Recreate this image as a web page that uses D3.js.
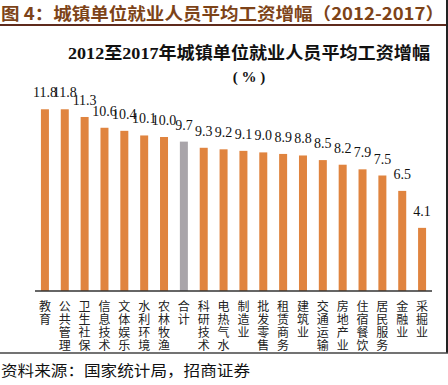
<!DOCTYPE html>
<html>
<head>
<meta charset="utf-8">
<script src="https://cdn.jsdelivr.net/npm/d3@7"></script>
<style>
  body { margin: 0; background: #fff; }
  svg { display: block; }
</style>
</head>
<body>
<div id="chart"></div>
<script>
var categories = ["教育", "公共管理", "卫生社保", "信息技术", "文体娱乐", "水利环境", "农林牧渔", "合计",
	"科研技术", "电热气水", "制造业", "批发零售", "租赁商务", "建筑业", "交通运输", "房地产业",
	"住宿餐饮", "居民服务", "金融业", "采掘业"];
var values = [11.8, 11.8, 11.3, 10.6, 10.4, 10.1, 10.0, 9.7, 9.3, 9.2, 9.1, 9.0, 8.9, 8.8, 8.5, 8.2, 7.9, 7.5, 6.5, 4.1];
var highlight = "合计";

var width = 448;
var height = 385;
var base_y = 291;

var svg = d3.select("#chart").append("svg")
	.attr("width", width)
	.attr("height", height);

// Header of the report figure
svg.append("text")
	.attr("x", 1)
	.attr("y", 20)
	.attr("font-family", "Noto Sans CJK SC")
	.attr("font-weight", "bold")
	.attr("font-size", 17)
	.attr("fill", "#7d4318")
	.attr("textLength", 443)
	.attr("lengthAdjust", "spacingAndGlyphs")
	.text("图 4：城镇单位就业人员平均工资增幅（2012-2017）");

svg.append("rect")
	.attr("x", 0).attr("y", 24)
	.attr("width", width).attr("height", 2)
	.attr("fill", "#5e2a1c");

// right border
svg.append("rect")
	.attr("x", 446).attr("y", 0)
	.attr("width", 2).attr("height", 353)
	.attr("fill", "#222");

// Chart title
svg.append("text")
	.attr("x", 249)
	.attr("y", 59)
	.attr("text-anchor", "middle")
	.attr("font-family", "Liberation Serif, Noto Sans CJK SC")
	.attr("font-weight", "bold")
	.attr("font-size", 17)
	.attr("fill", "#111")
	.attr("textLength", 362)
	.attr("lengthAdjust", "spacingAndGlyphs")
	.text("2012至2017年城镇单位就业人员平均工资增幅");

svg.append("text")
	.attr("x", 249)
	.attr("y", 82)
	.attr("text-anchor", "middle")
	.attr("font-family", "Liberation Serif")
	.attr("font-weight", "bold")
	.attr("font-size", 15)
	.attr("fill", "#111")
	.attr("xml:space", "preserve")
	.text("( % )");

// Scales
var x = d3.scaleBand()
	.domain(categories)
	.range([35, 432]);

var y = d3.scaleLinear()
	.domain([0, 14])
	.range([base_y, base_y - 14 * 15.4]);

var bar_w = 8;

svg.selectAll(".bar").data(values).enter()
	.append("rect")
	.attr("class", "bar")
	.attr("x", function(d, i) { return x(categories[i]) + x.bandwidth() / 2 - bar_w / 2; })
	.attr("y", function(d) { return y(d); })
	.attr("width", bar_w)
	.attr("height", function(d) { return y(0) - y(d); })
	.attr("fill", function(d, i) { return categories[i] == highlight ? "#a9a5aa" : "#e0843f"; });

// value labels
svg.selectAll(".val").data(values).enter()
	.append("text")
	.attr("class", "val")
	.attr("x", function(d, i) { return x(categories[i]) + x.bandwidth() / 2; })
	.attr("y", function(d) { return y(d) - 12; })
	.attr("text-anchor", "middle")
	.attr("font-family", "Liberation Serif")
	.attr("font-size", 14)
	.attr("fill", "#111")
	.text(function(d) { return d.toFixed(1); });

// x axis line
svg.append("line")
	.attr("x1", 35).attr("x2", 432)
	.attr("y1", base_y).attr("y2", base_y)
	.attr("stroke", "#333")
	.attr("stroke-width", 1.5);

// vertical category labels, one character per row
var cat_g = svg.selectAll(".cat").data(categories).enter()
	.append("text")
	.attr("class", "cat")
	.attr("font-family", "Noto Sans CJK SC")
	.attr("font-size", 12)
	.attr("fill", "#222")
	.attr("text-anchor", "middle");

cat_g.each(function(c) {
	var t = d3.select(this);
	c.split("").forEach(function(ch, k) {
		t.append("tspan")
			.attr("x", x(c) + x.bandwidth() / 2)
			.attr("y", 311 + k * 13)
			.text(ch);
	});
});

// source line
svg.append("line")
	.attr("x1", 0).attr("x2", width)
	.attr("y1", 353).attr("y2", 353)
	.attr("stroke", "#444")
	.attr("stroke-width", 1.5);

svg.append("text")
	.attr("x", 1)
	.attr("y", 376)
	.attr("font-family", "Noto Sans CJK SC")
	.attr("font-size", 15)
	.attr("fill", "#111")
	.attr("textLength", 249)
	.attr("lengthAdjust", "spacingAndGlyphs")
	.text("资料来源：国家统计局，招商证券");
</script>
</body>
</html>
